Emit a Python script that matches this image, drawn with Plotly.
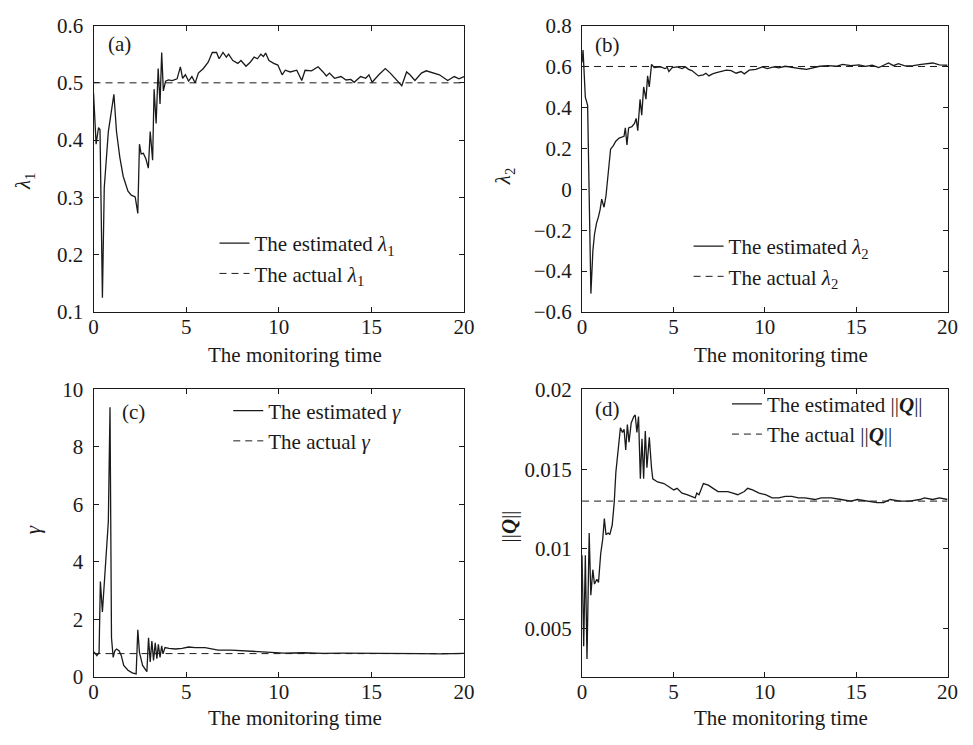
import plotly.graph_objects as go

# ---------------- data ----------------
t_lam1 = [0, 0.14, 0.27, 0.35, 0.48, 0.58, 0.8, 0.88, 1.1, 1.24, 1.42, 1.6, 1.68, 1.86, 2.04, 2.25,
          2.39, 2.48, 2.57, 2.69, 2.83, 2.96, 3.06, 3.19, 3.27, 3.38, 3.49, 3.59, 3.68, 3.77, 3.89,
          4.04, 4.25, 4.51, 4.69, 4.81, 4.96, 5.13, 5.31, 5.49, 5.66, 5.93, 6.19, 6.41, 6.64, 6.78,
          6.99, 7.17, 7.29, 7.52, 7.79, 7.96, 8.23, 8.46, 8.67, 8.85, 9.03, 9.17, 9.29, 9.47, 9.73,
          9.95, 10.18, 10.35, 10.62, 10.97, 11.24, 11.42, 11.77, 12.12, 12.39, 12.57, 12.74, 13.01,
          13.36, 13.63, 13.89, 14.07, 14.42, 14.69, 14.87, 15.04, 15.4, 15.75, 16.02, 16.37, 16.64,
          16.9, 17.08, 17.35, 17.7, 17.96, 18.32, 18.67, 19.12, 19.47, 19.73, 20]
lam1_est = [0.483, 0.393, 0.422, 0.418, 0.125, 0.317, 0.415, 0.432, 0.48, 0.415, 0.37, 0.337, 0.328,
            0.311, 0.304, 0.301, 0.272, 0.393, 0.376, 0.377, 0.367, 0.351, 0.415, 0.365, 0.489, 0.429,
            0.525, 0.463, 0.553, 0.486, 0.503, 0.505, 0.504, 0.507, 0.528, 0.508, 0.514, 0.503, 0.511,
            0.5, 0.517, 0.525, 0.536, 0.553, 0.553, 0.542, 0.553, 0.545, 0.55, 0.539, 0.534, 0.539,
            0.529, 0.536, 0.545, 0.542, 0.55, 0.546, 0.552, 0.539, 0.534, 0.531, 0.514, 0.522, 0.519,
            0.522, 0.504, 0.522, 0.521, 0.528, 0.519, 0.512, 0.517, 0.508, 0.511, 0.505, 0.506, 0.501,
            0.511, 0.508, 0.514, 0.501, 0.514, 0.525, 0.517, 0.505, 0.495, 0.519, 0.514, 0.504, 0.517,
            0.521, 0.518, 0.514, 0.504, 0.511, 0.507, 0.511]
lam1_actual = 0.5

t_lam2 = [0, 0.054, 0.179, 0.305, 0.484, 0.592, 0.682, 0.789, 0.897, 0.987, 1.076, 1.202, 1.309,
          1.399, 1.471, 1.561, 1.704, 1.848, 2.027, 2.242, 2.296, 2.368, 2.457, 2.547, 2.726, 2.87,
          2.96, 3.049, 3.175, 3.265, 3.372, 3.498, 3.587, 3.677, 3.803, 3.946, 4.305, 4.538, 4.664,
          4.753, 4.933, 5.202, 5.471, 5.65, 5.83, 6.009, 6.188, 6.368, 6.637, 6.78, 6.942, 7.139,
          7.354, 7.623, 7.892, 8.161, 8.43, 8.7, 8.879, 9.148, 9.507, 9.865, 10.135, 10.493, 10.762,
          11.121, 11.48, 11.928, 12.287, 12.646, 13.004, 13.453, 13.901, 14.26, 14.709, 15.157,
          15.516, 15.874, 16.233, 16.502, 16.771, 17.04, 17.309, 17.668, 18.117, 18.565, 19.193,
          19.552, 20]
lam2_est = [0.62, 0.68, 0.45, 0.41, -0.51, -0.30, -0.22, -0.167, -0.135, -0.10, -0.048, -0.088,
            -0.033, 0.046, 0.109, 0.196, 0.212, 0.235, 0.25, 0.259, 0.259, 0.30, 0.217, 0.30, 0.306,
            0.322, 0.346, 0.286, 0.44, 0.362, 0.50, 0.44, 0.554, 0.50, 0.61, 0.595, 0.598, 0.59,
            0.595, 0.575, 0.595, 0.598, 0.59, 0.598, 0.586, 0.58, 0.567, 0.554, 0.559, 0.567, 0.554,
            0.564, 0.57, 0.575, 0.582, 0.58, 0.567, 0.575, 0.564, 0.582, 0.586, 0.598, 0.59, 0.598,
            0.593, 0.601, 0.595, 0.59, 0.586, 0.595, 0.601, 0.604, 0.601, 0.61, 0.604, 0.608, 0.601,
            0.606, 0.595, 0.606, 0.617, 0.604, 0.614, 0.603, 0.604, 0.61, 0.617, 0.608, 0.606]
lam2_actual = 0.6

t_gamma = [0, 0.05, 0.18, 0.3, 0.37, 0.48, 0.8, 0.89, 0.97, 1.06, 1.15, 1.24, 1.38, 1.5, 1.63, 1.86,
           2.09, 2.3, 2.39, 2.48, 2.65, 2.83, 2.88, 2.97, 3.06, 3.15, 3.24, 3.33, 3.42, 3.5, 3.59,
           3.68, 3.75, 3.86, 4.07, 4.42, 4.78, 5.13, 5.49, 6.02, 6.37, 6.73, 7.43, 8.14, 8.85, 9.56,
           10.27, 11.33, 12.39, 13.45, 14.51, 15.58, 16.64, 17.7, 18.76, 20]
gamma_est = [0.8, 0.84, 0.73, 0.84, 3.31, 2.25, 5.4, 9.38, 1.35, 0.67, 0.9, 0.96, 0.9, 0.73, 0.39,
             0.22, 0.13, 0.09, 1.63, 0.84, 0.39, 0.2, 0.17, 1.35, 0.51, 1.24, 0.56, 1.18, 0.62, 1.12,
             0.67, 1.07, 0.79, 1.01, 0.98, 0.96, 0.98, 1.03, 1.01, 1.01, 0.96, 0.92, 0.92, 0.9, 0.87,
             0.84, 0.82, 0.83, 0.81, 0.82, 0.82, 0.81, 0.8, 0.8, 0.79, 0.81]
gamma_actual = 0.8

t_q = [0, 0.09, 0.18, 0.27, 0.39, 0.48, 0.59, 0.68, 0.81, 0.9, 1.02, 1.13, 1.22, 1.31, 1.43, 1.52,
       1.65, 1.76, 1.85, 1.97, 2.1, 2.21, 2.3, 2.39, 2.48, 2.57, 2.69, 2.83, 2.91, 3.0, 3.09, 3.19,
       3.28, 3.37, 3.46, 3.55, 3.68, 3.8, 3.87, 4.13, 4.48, 4.75, 5.02, 5.2, 5.47, 5.74, 6.01, 6.19,
       6.28, 6.4, 6.64, 6.91, 7.17, 7.44, 7.71, 7.98, 8.25, 8.52, 8.88, 9.06, 9.33, 9.69, 10.04,
       10.4, 10.76, 11.12, 11.48, 11.84, 12.2, 12.74, 13.09, 13.63, 14.17, 14.71, 15.07, 15.61,
       16.14, 16.5, 16.86, 17.4, 17.94, 18.48, 18.74, 19.19, 19.55, 20]
q_est = [0.0096, 0.0039, 0.0096, 0.0031, 0.011, 0.0071, 0.0087, 0.0078, 0.0081, 0.0079, 0.0097,
         0.0106, 0.0119, 0.0109, 0.011, 0.0109, 0.0115, 0.0129, 0.0148, 0.0164, 0.0176, 0.0173,
         0.0175, 0.0162, 0.0178, 0.0167, 0.0179, 0.0183, 0.0184, 0.0173, 0.0183, 0.0144, 0.0169,
         0.0144, 0.0174, 0.0151, 0.017, 0.0151, 0.0144, 0.0142, 0.0141, 0.0139, 0.0137, 0.0138,
         0.0135, 0.0134, 0.0133, 0.0132, 0.0135, 0.0134, 0.0141, 0.014, 0.0138, 0.0136, 0.0136,
         0.0136, 0.0135, 0.0134, 0.0136, 0.0138, 0.0137, 0.0135, 0.0134, 0.0132, 0.0132, 0.0133,
         0.0133, 0.0132, 0.0132, 0.0131, 0.0132, 0.0132, 0.0131, 0.013, 0.0131, 0.013, 0.0129,
         0.0129, 0.0131, 0.013, 0.013, 0.0131, 0.0132, 0.0131, 0.0132, 0.0131]
q_actual = 0.013

t_span = [0, 20]
x_ticks = [0, 5, 10, 15, 20]
y_ticks_a = [0.1, 0.2, 0.3, 0.4, 0.5, 0.6]
y_ticks_b = [-0.6, -0.4, -0.2, 0, 0.2, 0.4, 0.6, 0.8]
y_ticks_c = [0, 2, 4, 6, 8, 10]
y_ticks_d = [0.005, 0.01, 0.015, 0.02]
y_ticktext_d = ["0.005", "0.01", "0.015", "0.02"]
x_title = "The monitoring time"

# ---------------- layout helpers ----------------
W, H = 973, 745
FONT = "Liberation Serif, Times New Roman, serif"
FS = 21
INK = "#1a1a1a"


def fx(p):
    return p / W


def fy(p):
    return 1 - p / H


fig = go.Figure()

panels = [
    ("<i>λ</i><sub>1</sub>", "x", "y", t_lam1, lam1_est, lam1_actual, "legend"),
    ("<i>λ</i><sub>2</sub>", "x2", "y2", t_lam2, lam2_est, lam2_actual, "legend2"),
    ("<i>γ</i>", "x3", "y3", t_gamma, gamma_est, gamma_actual, "legend3"),
    ("||<b><i>Q</i></b>||", "x4", "y4", t_q, q_est, q_actual, "legend4"),
]

for sym, xa, ya, t, est, act, lg in panels:
    fig.add_trace(go.Scatter(x=t, y=est, mode="lines", xaxis=xa, yaxis=ya, legend=lg,
                             name="The estimated " + sym,
                             line=dict(color=INK, width=1.3)))
    fig.add_trace(go.Scatter(x=t_span, y=[act, act], mode="lines", xaxis=xa, yaxis=ya, legend=lg,
                             name="The actual " + sym,
                             line=dict(color=INK, width=1, dash="7px,5px")))

axis_common = dict(showline=True, mirror="ticks", linecolor=INK, linewidth=1,
                   ticks="inside", ticklen=5, tickwidth=1, tickcolor=INK,
                   showgrid=False, zeroline=False,
                   tickfont=dict(family=FONT, size=FS, color=INK))

dom = {
    "a": ([fx(90), fx(466.7)], [fy(310), fy(14)]),
    "b": ([fx(586.7), fx(958.3)], [fy(310), fy(14)]),
    "c": ([fx(90), fx(466.7)], [fy(686.7), fy(390)]),
    "d": ([fx(586.7), fx(958.3)], [fy(686.7), fy(390)]),
}

XSTAND = -4
fig.update_layout(
    width=W, height=H,
    margin=dict(l=0, r=0, t=0, b=0),
    paper_bgcolor="white", plot_bgcolor="white",
    font=dict(family=FONT, size=FS, color=INK),
    xaxis=dict(domain=dom["a"][0], anchor="y", range=[0, 20], tickvals=x_ticks, ticklabelstandoff=XSTAND, **axis_common),
    yaxis=dict(domain=dom["a"][1], anchor="x", range=[0.1, 0.6], tickvals=y_ticks_a, ticklabelstandoff=5, **axis_common),
    xaxis2=dict(domain=dom["b"][0], anchor="y2", range=[0, 20], tickvals=x_ticks, ticklabelstandoff=XSTAND, **axis_common),
    yaxis2=dict(domain=dom["b"][1], anchor="x2", range=[-0.6, 0.8], tickvals=y_ticks_b, ticklabelstandoff=5, **axis_common),
    xaxis3=dict(domain=dom["c"][0], anchor="y3", range=[0, 20], tickvals=x_ticks, ticklabelstandoff=XSTAND, **axis_common),
    yaxis3=dict(domain=dom["c"][1], anchor="x3", range=[0, 10], tickvals=y_ticks_c, ticklabelstandoff=5, **axis_common),
    xaxis4=dict(domain=dom["d"][0], anchor="y4", range=[0, 20], tickvals=x_ticks, ticklabelstandoff=XSTAND, **axis_common),
    yaxis4=dict(domain=dom["d"][1], anchor="x4", range=[0.002, 0.02], tickvals=y_ticks_d,
                ticktext=y_ticktext_d, ticklabelstandoff=5, **axis_common),
)

leg_common = dict(bgcolor="rgba(0,0,0,0)", borderwidth=0, xanchor="left", yanchor="top",
                  font=dict(family=FONT, size=FS, color=INK), itemwidth=30, tracegroupgap=0)
fig.update_layout(
    legend=dict(x=fx(213), y=fy(218), **leg_common),
    legend2=dict(x=fx(695), y=fy(221), **leg_common),
    legend3=dict(x=fx(227), y=fy(391), **leg_common),
    legend4=dict(x=fx(734), y=fy(384), **leg_common),
)

# panel labels
for txt, xpix, ypix in [("(a)", 103, 33), ("(b)", 598, 34), ("(c)", 117, 413), ("(d)", 598, 410)]:
    fig.add_annotation(text=txt, x=fx(xpix), y=fy(ypix), xref="paper", yref="paper",
                       xanchor="left", yanchor="middle", showarrow=False,
                       font=dict(family=FONT, size=FS, color=INK))

# y-axis titles
for (sym, *_), (xpix, ypix) in zip(panels, [(20, 175), (507, 170), (28, 535), (512, 532)]):
    fig.add_annotation(text=sym, x=fx(xpix), y=fy(ypix), xref="paper", yref="paper",
                       xanchor="center", yanchor="middle", textangle=-90, showarrow=False,
                       font=dict(family=FONT, size=FS, color=INK))

# x-axis titles
for xpix, ypix in [(295, 354), (789, 354), (295, 730), (789, 730)]:
    fig.add_annotation(text=x_title, x=fx(xpix), y=fy(ypix), xref="paper", yref="paper",
                       xanchor="center", yanchor="middle", showarrow=False,
                       font=dict(family=FONT, size=FS, color=INK))

fig.write_html("out.html")
